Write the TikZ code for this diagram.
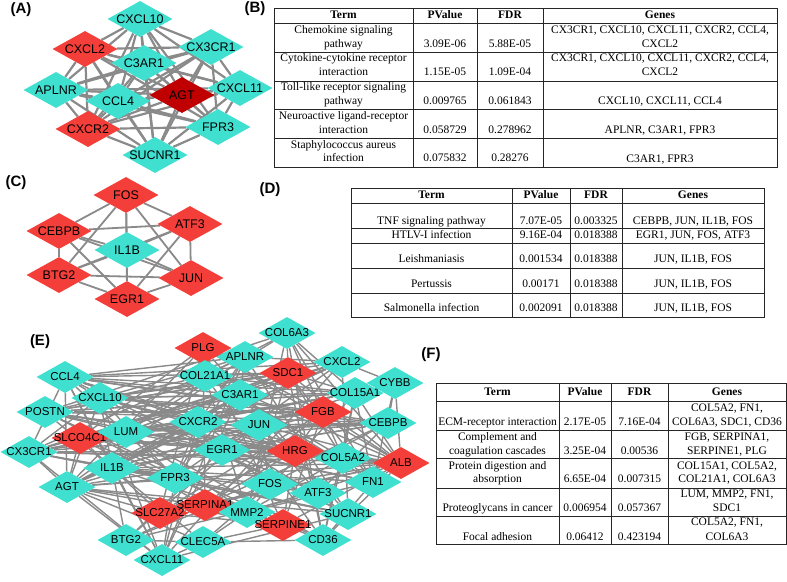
\documentclass[tikz,border=0pt]{standalone}
\usepackage{fontspec}
\setmainfont{Liberation Serif}
\setsansfont{Liberation Sans}
\usetikzlibrary{shapes.geometric,backgrounds}

\definecolor{turq}{RGB}{64,224,208}
\definecolor{hubred}{RGB}{244,62,58}
\definecolor{darkred}{RGB}{192,0,0}
\definecolor{edgegray}{RGB}{138,138,138}

\tikzset{
  labeltext/.style={font=\sffamily\fontsize{12.5}{14}\selectfont, inner sep=0pt},
  gene/.style={diamond, inner sep=0pt, minimum width=65pt, minimum height=36pt,
    label={[labeltext]center:#1}},
  egene/.style={diamond, inner sep=0pt, minimum width=57pt, minimum height=32pt,
    label={[labeltext, font=\sffamily\fontsize{11.5}{13}\selectfont]center:#1}},
  tq/.style={fill=turq},
  rd/.style={fill=hubred},
  panel/.style={font=\sffamily\bfseries\fontsize{15}{17}\selectfont, inner sep=0pt},
  tbl/.style={line width=1pt, draw=black!85},
  cell/.style={font=\fontsize{11.5}{13}\selectfont, inner sep=0pt, anchor=mid},
  head/.style={cell, font=\bfseries\fontsize{11.5}{13}\selectfont}
}

% every pair of a list
\newcommand{\allpairs}[1]{%
  \foreach \a [count=\i] in {#1}{%
    \foreach \b [count=\j] in {#1}{%
      \ifnum\i<\j \draw (\a) -- (\b);\fi}}}

\begin{document}
\begin{tikzpicture}[x=1pt, y=-1pt]
  \useasboundingbox (0,0) rectangle (787,581);

  % panel labels
  \node[panel] (labA) at (21,10) {(A)};
  \node[panel] (labB) at (255,9) {(B)};
  \node[panel] (labC) at (16,183) {(C)};
  \node[panel] (labD) at (270,190) {(D)};
  \node[panel] (labE) at (40,342) {(E)};
  \node[panel] (labF) at (431,355) {(F)};

  % (A) chemokine module
  \node[gene=CXCL10, tq] (cxcl10) at (140,19) {};
  \node[gene=CXCL2, rd] (cxcl2) at (85,49) {};
  \node[gene=C3AR1, tq] (c3ar1) at (144,63) {};
  \node[gene=CX3CR1, tq] (cx3cr1) at (211,47) {};
  \node[gene=APLNR, tq] (aplnr) at (56,90) {};
  \node[gene=CCL4, tq] (ccl4) at (118,101) {};
  \node[gene=AGT, fill=darkred] (agt) at (182,95) {};
  \node[gene=CXCL11, tq] (cxcl11) at (240,88) {};
  \node[gene=CXCR2, rd] (cxcr2) at (88,129) {};
  \node[gene=FPR3, tq] (fpr3) at (218,127) {};
  \node[gene=SUCNR1, tq] (sucnr1) at (155,155) {};
  \begin{scope}[on background layer={color=edgegray, line width=2.2pt}]
    \allpairs{cxcl10,cxcl2,c3ar1,cx3cr1,aplnr,ccl4,agt,cxcl11,cxcr2,fpr3,sucnr1}
  \end{scope}

  % (C) early response module
  \node[gene=FOS, rd] (fos) at (126,195) {};
  \node[gene=CEBPB, rd] (cebpb) at (59,231) {};
  \node[gene=ATF3, rd] (atf3) at (190,224) {};
  \node[gene=IL1B, tq] (il1b) at (127,250) {};
  \node[gene=BTG2, rd] (btg2) at (59,275) {};
  \node[gene=JUN, rd] (jun) at (191,278) {};
  \node[gene=EGR1, rd] (egr1) at (127,299) {};
  \begin{scope}[on background layer={color=edgegray, line width=1.8pt}]
    \allpairs{fos,cebpb,atf3,il1b,btg2,jun,egr1}
  \end{scope}

  % (E) whole network
  \node[egene=PLG, rd] (eplg) at (203,348) {};
  \node[egene=COL6A3, tq] (ecol6a3) at (287,333) {};
  \node[egene=APLNR, tq] (eaplnr) at (245,357) {};
  \node[egene=SDC1, rd] (esdc1) at (288,373) {};
  \node[egene=CXCL2, tq] (ecxcl2) at (342,362) {};
  \node[egene=COL21A1, tq] (ecol21a1) at (205,376) {};
  \node[egene=C3AR1, tq] (ec3ar1) at (240,395) {};
  \node[egene=COL15A1, tq] (ecol15a1) at (355,393) {};
  \node[egene=CYBB, tq] (ecybb) at (395,383) {};
  \node[egene=CCL4, tq] (eccl4) at (65,377) {};
  \node[egene=CXCL10, tq] (ecxcl10) at (100,398) {};
  \node[egene=POSTN, tq] (epostn) at (45,412) {};
  \node[egene=SLCO4C1, rd] (eslco4c1) at (80,438) {};
  \node[egene=LUM, tq] (elum) at (126,432) {};
  \node[egene=CXCR2, tq] (ecxcr2) at (198,422) {};
  \node[egene=JUN, tq] (ejun) at (259,425) {};
  \node[egene=FGB, rd] (efgb) at (323,412) {};
  \node[egene=CEBPB, tq] (ecebpb) at (388,423) {};
  \node[egene=CX3CR1, tq] (ecx3cr1) at (29,452) {};
  \node[egene=IL1B, tq] (eil1b) at (112,468) {};
  \node[egene=EGR1, tq] (eegr1) at (222,450) {};
  \node[egene=HRG, rd] (ehrg) at (295,451) {};
  \node[egene=COL5A2, tq] (ecol5a2) at (343,458) {};
  \node[egene=ALB, rd] (ealb) at (401,463) {};
  \node[egene=AGT, tq] (eagt) at (67,487) {};
  \node[egene=FPR3, tq] (efpr3) at (175,478) {};
  \node[egene=FOS, tq] (efos) at (270,484) {};
  \node[egene=FN1, tq] (efn1) at (373,482) {};
  \node[egene=ATF3, tq] (eatf3) at (318,493) {};
  \node[egene=SLC27A2, rd] (eslc27a2) at (160,513) {};
  \node[egene=SERPINA1, rd] (eserpina1) at (205,505) {};
  \node[egene=MMP2, tq] (emmp2) at (247,512) {};
  \node[egene=SUCNR1, tq] (esucnr1) at (348,514) {};
  \node[egene=SERPINE1, rd] (eserpine1) at (283,525) {};
  \node[egene=BTG2, tq] (ebtg2) at (126,540) {};
  \node[egene=CLEC5A, tq] (eclec5a) at (203,542) {};
  \node[egene=CD36, tq] (ecd36) at (323,540) {};
  \node[egene=CXCL11, tq] (ecxcl11) at (162,560) {};
  \begin{scope}[on background layer={color=edgegray, line width=1.4pt}]
    \allpairs{eccl4,ecxcl10,ecx3cr1,ecxcr2,ecxcl2,ecxcl11,ec3ar1,eaplnr,efpr3,eagt,esucnr1}
    \allpairs{ecol6a3,ecol21a1,ecol15a1,ecol5a2,efn1,esdc1,elum,epostn,emmp2,ecd36}
    \allpairs{eplg,efgb,ehrg,ealb,eserpina1,eserpine1,eslc27a2,eslco4c1,eagt}
    \allpairs{efos,ejun,eegr1,eatf3,eil1b,ebtg2,ecebpb}
    \foreach \b in {eccl4,ecxcl10,ecx3cr1,ecxcr2,ecxcl2,ecxcl11,ec3ar1,efpr3,eagt,esucnr1,emmp2,efn1,epostn}
      \draw (eil1b) -- (\b);
    \foreach \b in {ecol6a3,ecol21a1,ecol15a1,ecol5a2,efn1,esdc1,elum,epostn,emmp2,ecd36,ecx3cr1,eil1b,efos,ejun,eegr1}
      \draw (ealb) -- (\b);
    \foreach \a in {eccl4,ecxcl10,epostn,elum,ecx3cr1,eslco4c1}
      \foreach \b in {ecol15a1,ecebpb,ecol5a2,ehrg,efgb,esdc1}
        \draw (\a) -- (\b);
    \foreach \b in {eil1b,efos,ecxcl11,ebtg2,eserpine1,emmp2,ecd36,eagt}
      \draw (eclec5a) -- (\b);
    \foreach \b in {ealb,ecebpb,ecol15a1,eil1b,efn1,ecxcl2}
      \draw (ecybb) -- (\b);
  \end{scope}

  % (B) table
  \draw[tbl] (274,8) rectangle (777,167);
  \foreach \y in {23,52,81,109,138} \draw[tbl] (274,\y) -- (777,\y);
  \foreach \x in {413,477,543} \draw[tbl] (\x,8) -- (\x,167);
  \foreach \x/\s [count=\k] in {343.5/Term, 445/PValue, 510/FDR, 660/Genes}
    \node[head] (bh\k) at (\x,16) {\s};
  \foreach \x/\y/\s [count=\k] in {
      343.5/31/Chemokine signaling, 343.5/45/pathway, 445/45/3.09E-06, 510/45/5.88E-05,
      660/31/{CX3CR1, CXCL10, CXCL11, CXCR2, CCL4,}, 660/45/CXCL2,
      343.5/59/Cytokine-cytokine receptor, 343.5/73/interaction, 445/73/1.15E-05, 510/73/1.09E-04,
      660/59/{CX3CR1, CXCL10, CXCL11, CXCR2, CCL4,}, 660/73/CXCL2,
      343.5/88/Toll-like receptor signaling, 343.5/102/pathway, 445/102/0.009765, 510/102/0.061843,
      660/102/{CXCL10, CXCL11, CCL4},
      343.5/117/Neuroactive ligand-receptor, 343.5/131/interaction, 445/131/0.058729, 510/131/0.278962,
      660/131/{APLNR, C3AR1, FPR3},
      343.5/146/Staphylococcus aureus, 343.5/159/infection, 445/159/0.075832, 510/159/0.28276,
      660/160/{C3AR1, FPR3}}
    \node[cell] (b\k) at (\x,\y) {\s};

  % (D) table
  \draw[tbl] (351,188) rectangle (764,317);
  \foreach \y in {203,228,243,268,293} \draw[tbl] (351,\y) -- (764,\y);
  \foreach \x in {512,570,622} \draw[tbl] (\x,188) -- (\x,317);
  \foreach \x/\s [count=\k] in {431.5/Term, 541/PValue, 596/FDR, 693/Genes}
    \node[head] (dh\k) at (\x,196) {\s};
  \foreach \x/\y/\s [count=\k] in {
      431.5/222/TNF signaling pathway, 541/222/7.07E-05, 596/222/0.003325, 693/222/{CEBPB, JUN, IL1B, FOS},
      431.5/236/HTLV-I infection, 541/236/9.16E-04, 596/236/0.018388, 693/236/{EGR1, JUN, FOS, ATF3},
      431.5/260/Leishmaniasis, 541/260/0.001534, 596/260/0.018388, 693/260/{JUN, IL1B, FOS},
      431.5/285/Pertussis, 541/285/0.00171, 596/285/0.018388, 693/285/{JUN, IL1B, FOS},
      431.5/309/Salmonella infection, 541/309/0.002091, 596/309/0.018388, 693/309/{JUN, IL1B, FOS}}
    \node[cell] (d\k) at (\x,\y) {\s};

  % (F) table
  \draw[tbl] (436,383) rectangle (786,544);
  \foreach \y in {401,430,458,488,516} \draw[tbl] (436,\y) -- (786,\y);
  \foreach \x in {559,611,668} \draw[tbl] (\x,383) -- (\x,544);
  \foreach \x/\s [count=\k] in {497.5/Term, 585/PValue, 639.5/FDR, 727/Genes}
    \node[head] (fh\k) at (\x,393) {\s};
  \foreach \x/\y/\s [count=\k] in {
      497.5/423/ECM-receptor interaction, 585/423/2.17E-05, 639.5/423/7.16E-04,
      727/409/{COL5A2, FN1,}, 727/423/{COL6A3, SDC1, CD36},
      497.5/438/Complement and, 497.5/452/coagulation cascades, 585/452/3.25E-04, 639.5/452/0.00536,
      727/438/{FGB, SERPINA1,}, 727/452/{SERPINE1, PLG},
      497.5/467/Protein digestion and, 497.5/480/absorption, 585/480/6.65E-04, 639.5/480/0.007315,
      727/467/{COL15A1, COL5A2,}, 727/480/{COL21A1, COL6A3},
      497.5/509/Proteoglycans in cancer, 585/509/0.006954, 639.5/509/0.057367,
      727/495/{LUM, MMP2, FN1,}, 727/509/SDC1,
      497.5/538/Focal adhesion, 585/538/0.06412, 639.5/538/0.423194,
      727/523/{COL5A2, FN1,}, 727/538/COL6A3}
    \node[cell] (f\k) at (\x,\y) {\s};
\end{tikzpicture}
\end{document}
